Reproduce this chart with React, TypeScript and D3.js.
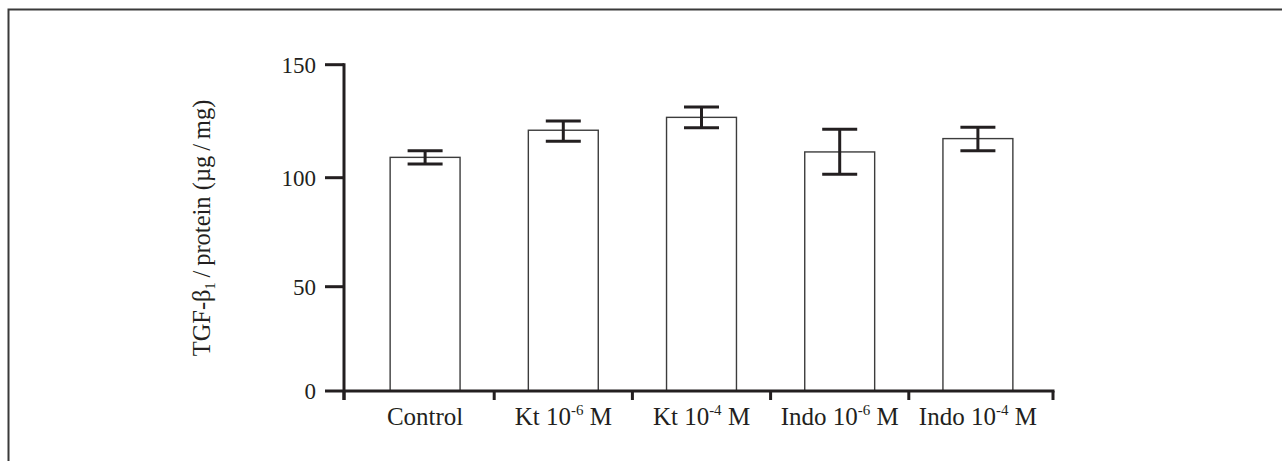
import React from 'react';
import * as d3 from 'd3';

// categories: base label + exponent for the superscript part
const categories = ['Control', 'Kt 10-6 M', 'Kt 10-4 M', 'Indo 10-6 M', 'Indo 10-4 M'];
const labelParts: [string, string, string][] = [
  ['Control', '', ''],
  ['Kt 10', '-6', ' M'],
  ['Kt 10', '-4', ' M'],
  ['Indo 10', '-6', ' M'],
  ['Indo 10', '-4', ' M'],
];
const means = [109, 121, 126.7, 111.4, 117.3];
const errLow = [106.1, 116.1, 122.1, 101.5, 111.9];
const errHigh = [111.9, 125.1, 131.3, 121.4, 122.3];
const yTicks = [0, 50, 100, 150];

const W = 1282;
const H = 461;
const ink = '#231f20';
const font = '"Liberation Serif", "Times New Roman", serif';

export default function App() {
  // scanned figure isn't perfectly linear, so use a piecewise scale through the tick positions
  const y = d3.scaleLinear().domain([0, 50, 100, 150]).range([391, 286.7, 177.7, 64.7]);
  const x = d3.scaleBand<string>().domain(categories).range([356, 1047]).paddingInner(0.494).paddingOuter(0.247);
  const axisLeft = 344;
  const axisRight = 1053;
  const step = x.step();
  const bw = x.bandwidth();
  const capW = 35;

  // tick marks between bars
  const xTickPos = [axisLeft, ...categories.slice(1).map((c) => (x(c) as number) - (step - bw) / 2), axisRight];

  return (
    <svg width={W} height={H} style={{ position: 'absolute', left: 0, top: 0 }} fontFamily={font}>
      <rect x={0} y={0} width={W} height={H} fill="#fff" />
      {/* frame */}
      <path d={`M${W + 2},9.5 H8.5 V${H + 2}`} fill="none" stroke="#3a3a3a" strokeWidth={2} />

      {/* bars */}
      {categories.map((c, i) => (
        <rect
          key={c}
          x={x(c)}
          y={y(means[i])}
          width={bw}
          height={y(0) - y(means[i])}
          fill="#fff"
          stroke="#3c3c3c"
          strokeWidth={1.4}
        />
      ))}

      {/* error bars */}
      {categories.map((c, i) => {
        const cx = (x(c) as number) + bw / 2;
        return (
          <g key={c} stroke={ink} strokeWidth={3}>
            <line x1={cx} x2={cx} y1={y(errHigh[i])} y2={y(errLow[i])} />
            <line x1={cx - capW / 2} x2={cx + capW / 2} y1={y(errHigh[i])} y2={y(errHigh[i])} />
            <line x1={cx - capW / 2} x2={cx + capW / 2} y1={y(errLow[i])} y2={y(errLow[i])} />
          </g>
        );
      })}

      {/* y axis */}
      <g stroke={ink} strokeWidth={3}>
        <line x1={axisLeft} x2={axisLeft} y1={y(150) - 1.5} y2={400} />
        {yTicks.map((t) => (
          <line key={t} x1={325} x2={axisLeft} y1={y(t)} y2={y(t)} />
        ))}
      </g>
      {yTicks.map((t) => (
        <text key={t} x={316} y={y(t)} dy="0.35em" textAnchor="end" fontSize={23} fill={ink}>
          {t}
        </text>
      ))}

      {/* x axis */}
      <g stroke={ink} strokeWidth={3}>
        <line x1={axisLeft} x2={axisRight + 1.5} y1={y(0)} y2={y(0)} />
        {xTickPos.map((p, i) => (
          <line key={i} x1={p} x2={p} y1={y(0)} y2={400} />
        ))}
      </g>
      {categories.map((c, i) => {
        const [a, sup, b] = labelParts[i];
        return (
          <text key={c} x={(x(c) as number) + bw / 2} y={425} textAnchor="middle" fontSize={25} fill={ink}>
            {a}
            {sup && (
              <tspan fontSize={15} dy={-10}>
                {sup}
              </tspan>
            )}
            {b && <tspan dy={sup ? 10 : 0}>{b}</tspan>}
          </text>
        );
      })}

      {/* y axis title */}
      <text transform={`translate(210,228) rotate(-90)`} textAnchor="middle" fontSize={24.5} fill={ink}>
        TGF-β
        <tspan fontSize={14} dy={5}>1</tspan>
        <tspan dy={-5}>{'\u2009/\u2009protein (µg\u2009/\u2009mg)'}</tspan>
      </text>
    </svg>
  );
}
